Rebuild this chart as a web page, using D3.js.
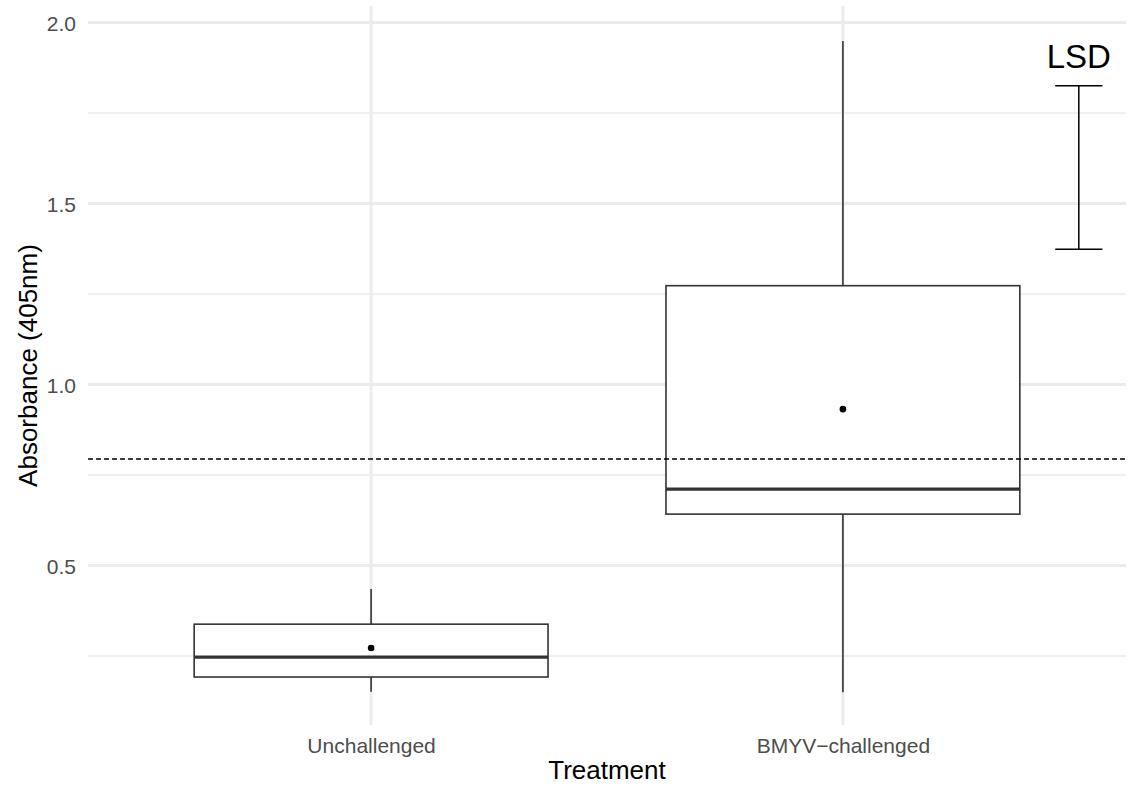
<!DOCTYPE html>
<html>
<head>
<meta charset="utf-8">
<script src="https://cdn.jsdelivr.net/npm/d3@7"></script>
<style>
  html, body { margin: 0; padding: 0; background: #fff; }
  text { font-family: "Liberation Sans", Arial, sans-serif; }
</style>
</head>
<body>
<svg id="chart" width="1128" height="787"></svg>
<script>
// data
const categories = ['Unchallenged', 'BMYV\u2212challenged'];
const whiskerLow = [0.151, 0.150];
const q1 = [0.192, 0.642];
const medians = [0.247, 0.711];
const q3 = [0.338, 1.273];
const whiskerHigh = [0.435, 1.949];
const means = [0.272, 0.932];
const cutoff = 0.794;
const lsdRange = [1.374, 1.825];
const majorTicks = [0.5, 1.0, 1.5, 2.0];
const minorTicks = [0.25, 0.75, 1.25, 1.75];

const svg = d3.select('#chart');
const panel = { left: 88, right: 1126, top: 6, bottom: 725 };

// scales
const x = d3.scalePoint()
  .domain(categories)
  .range([panel.left, panel.right])
  .padding(0.6);
const step = x.step();

const y = d3.scaleLinear()
  .domain([0.06, 2.06])
  .range([724.8, 0.8]);

const boxWidth = step * 0.75;

// grid
const grid = svg.append('g');
grid.selectAll('line.minor')
  .data(minorTicks)
  .join('line')
  .attr('x1', panel.left).attr('x2', panel.right)
  .attr('y1', d => y(d)).attr('y2', d => y(d))
  .attr('stroke', '#ebebeb').attr('stroke-width', 1.4);
grid.selectAll('line.major')
  .data(majorTicks)
  .join('line')
  .attr('x1', panel.left).attr('x2', panel.right)
  .attr('y1', d => y(d)).attr('y2', d => y(d))
  .attr('stroke', '#ebebeb').attr('stroke-width', 2.8);
grid.selectAll('line.vmajor')
  .data(categories)
  .join('line')
  .attr('x1', d => x(d)).attr('x2', d => x(d))
  .attr('y1', panel.top).attr('y2', panel.bottom)
  .attr('stroke', '#ebebeb').attr('stroke-width', 2.8);

// y axis labels
const yAxis = svg.append('g')
  .attr('transform', `translate(${panel.left - 5},0)`)
  .call(d3.axisLeft(y).tickValues(majorTicks).tickFormat(d3.format('.1f')).tickSize(0).tickPadding(7));
yAxis.select('.domain').remove();
yAxis.selectAll('text')
  .attr('fill', '#4d4d4d')
  .style('font-size', '21px')
  .attr('dy', '0.36em');

// x axis labels
const xAxis = svg.append('g')
  .attr('transform', `translate(0,${panel.bottom})`)
  .call(d3.axisBottom(x).tickSize(0).tickPadding(0));
xAxis.select('.domain').remove();
xAxis.selectAll('text')
  .attr('fill', '#4d4d4d')
  .attr('y', 28)
  .attr('dy', 0)
  .style('font-size', '21px');

// axis titles
svg.append('text')
  .attr('x', (panel.left + panel.right) / 2)
  .attr('y', 779)
  .attr('text-anchor', 'middle')
  .style('font-size', '26px')
  .attr('fill', '#000')
  .text('Treatment');

svg.append('text')
  .attr('transform', `translate(37,${(panel.top + panel.bottom) / 2}) rotate(-90)`)
  .attr('text-anchor', 'middle')
  .style('font-size', '26px')
  .attr('fill', '#000')
  .text('Absorbance (405nm)');

// boxplots
const boxes = svg.append('g')
  .selectAll('g')
  .data(categories.map((c, i) => ({ c, lo: whiskerLow[i], q1: q1[i], med: medians[i], q3: q3[i], hi: whiskerHigh[i] })))
  .join('g');

boxes.append('line')
  .attr('x1', d => x(d.c)).attr('x2', d => x(d.c))
  .attr('y1', d => y(d.q3)).attr('y2', d => y(d.hi))
  .attr('stroke', '#333').attr('stroke-width', 1.6);
boxes.append('line')
  .attr('x1', d => x(d.c)).attr('x2', d => x(d.c))
  .attr('y1', d => y(d.q1)).attr('y2', d => y(d.lo))
  .attr('stroke', '#333').attr('stroke-width', 1.6);
boxes.append('rect')
  .attr('x', d => x(d.c) - boxWidth / 2)
  .attr('width', boxWidth)
  .attr('y', d => y(d.q3))
  .attr('height', d => y(d.q1) - y(d.q3))
  .attr('fill', '#fff')
  .attr('stroke', '#333').attr('stroke-width', 1.6);
boxes.append('line')
  .attr('x1', d => x(d.c) - boxWidth / 2).attr('x2', d => x(d.c) + boxWidth / 2)
  .attr('y1', d => y(d.med)).attr('y2', d => y(d.med))
  .attr('stroke', '#333').attr('stroke-width', 3.4);

// means
svg.append('g')
  .selectAll('circle')
  .data(means)
  .join('circle')
  .attr('cx', (d, i) => x(categories[i]))
  .attr('cy', d => y(d))
  .attr('r', 3.3)
  .attr('fill', '#000');

// cutoff line
svg.append('line')
  .attr('x1', panel.left).attr('x2', panel.right)
  .attr('y1', y(cutoff)).attr('y2', y(cutoff))
  .attr('stroke', '#000').attr('stroke-width', 1.5)
  .attr('stroke-dasharray', '5,3');

// LSD bar, placed half a step right of the last category
const lsdX = x(categories[1]) + step / 2;
const capHalf = step * 0.05;
const lsd = svg.append('g').attr('stroke', '#000').attr('stroke-width', 1.5);
lsd.append('line')
  .attr('x1', lsdX).attr('x2', lsdX)
  .attr('y1', y(lsdRange[0])).attr('y2', y(lsdRange[1]));
lsdRange.forEach(v => {
  lsd.append('line')
    .attr('x1', lsdX - capHalf).attr('x2', lsdX + capHalf)
    .attr('y1', y(v)).attr('y2', y(v));
});
svg.append('text')
  .attr('x', lsdX)
  .attr('y', 68)
  .attr('text-anchor', 'middle')
  .style('font-size', '33px')
  .attr('fill', '#000')
  .text('LSD');
</script>
</body>
</html>
